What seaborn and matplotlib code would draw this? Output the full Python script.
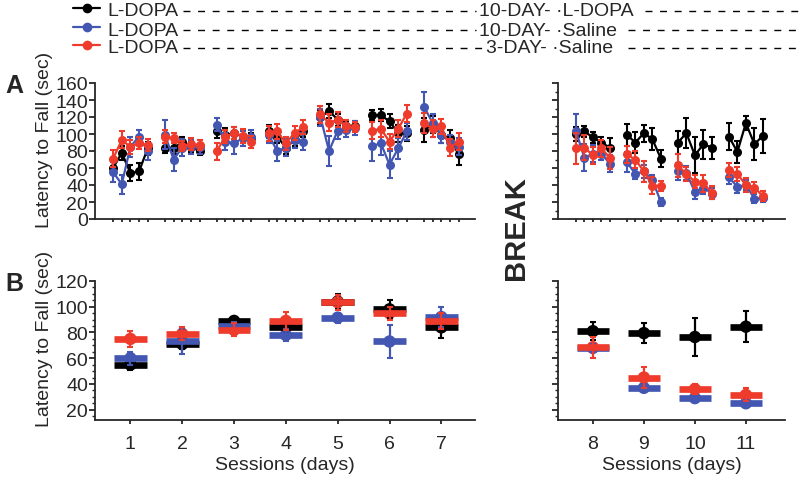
import matplotlib
matplotlib.use("Agg")
import matplotlib.pyplot as plt
from matplotlib.lines import Line2D
from matplotlib.ticker import MultipleLocator
import seaborn as sns
import pandas as pd

sns.set_style("ticks")
plt.rcParams['font.family'] = ['Liberation Sans', 'DejaVu Sans']

# Data
groups = ["10L", "10S", "3S"]
colors = {"10L": "#000000", "10S": "#4357b2", "3S": "#ee3b2b"}

sessions_early = [1, 2, 3, 4, 5, 6, 7]
sessions_late = [8, 9, 10, 11]
trials = [1, 2, 3, 4, 5]

# panel A, days 1-7, 5 trials per day
black_early = [60, 78, 54, 56, 83, 84, 83, 91, 85, 80, 103, 99, 101, 97, 95, 103, 97, 84, 93, 103,
               120, 127, 117, 109, 109, 122, 122, 115, 101, 101, 105, 111, 99, 95, 76]
blue_early = [55, 41, 85, 97, 80, 99, 70, 84, 85, 85, 111, 91, 89, 95, 97, 99, 80, 84, 93, 91,
              120, 80, 104, 105, 107, 86, 89, 64, 83, 103, 132, 113, 99, 91, 85]
red_early = [71, 93, 85, 89, 87, 97, 95, 86, 88, 87, 80, 97, 101, 98, 91, 101, 103, 89, 101, 108,
             123, 113, 117, 109, 108, 104, 106, 91, 106, 124, 113, 106, 109, 84, 91]
black_early_err = [7, 8, 9, 10, 8, 6, 6, 5, 6, 5, 8, 8, 7, 7, 6, 8, 8, 8, 7, 6,
                   8, 8, 7, 6, 6, 6, 7, 8, 10, 9, 14, 10, 10, 10, 12]
blue_early_err = [12, 11, 12, 8, 10, 17, 13, 10, 8, 8, 8, 10, 13, 9, 8, 10, 12, 10, 9, 10,
                  10, 18, 10, 8, 8, 18, 14, 16, 12, 10, 17, 10, 10, 8, 10]
red_early_err = [10, 10, 8, 7, 7, 8, 6, 6, 7, 6, 10, 8, 7, 8, 7, 9, 9, 8, 8, 8,
                 10, 10, 9, 7, 6, 10, 10, 9, 10, 10, 12, 10, 9, 10, 10]

# panel A, days 8-11
black_late = [100, 103, 96, 90, 84, 99, 90, 101, 94, 71, 90, 101, 75, 88, 84, 97, 79, 113, 88, 98]
blue_late = [104, 72, 77, 77, 65, 67, 53, 56, 46, 20, 56, 54, 32, 37, 30, 49, 38, 40, 24, 25]
red_late = [83, 84, 75, 83, 72, 76, 70, 56, 39, 39, 63, 53, 44, 42, 31, 58, 53, 40, 37, 27]
black_late_err = [8, 7, 6, 7, 11, 13, 12, 10, 13, 10, 13, 18, 21, 17, 13, 16, 13, 8, 19, 20]
blue_late_err = [19, 16, 10, 8, 10, 12, 6, 8, 6, 5, 10, 8, 8, 8, 6, 8, 7, 6, 5, 5]
red_late_err = [18, 15, 10, 10, 13, 10, 10, 12, 10, 6, 13, 8, 8, 10, 8, 8, 8, 8, 6, 6]

# panel B, daily means
black_day = [55, 71, 89, 84.5, 104, 98, 84, 81, 79.5, 76.5, 84.5]
blue_day = [60, 73, 85, 78, 91.5, 73, 92, 68, 37, 29, 25]
red_day = [75, 79, 82, 89, 103.5, 95, 89, 68.5, 45, 36, 31.5]
black_day_err = [4, 4, 3, 5, 6, 7, 8, 7, 8, 15, 12]
blue_day_err = [5, 10, 3, 5, 4, 13, 8, 3, 3, 3, 3]
red_day_err = [6, 5, 5, 7, 6, 5, 6, 8, 8, 4, 5]


def trial_frame(sessions, vals, errs):
    rows = []
    for g in groups:
        for i, s in enumerate(sessions):
            for t in trials:
                k = i * len(trials) + t - 1
                rows.append({"group": g, "session": s, "x": i * 6 + t,
                             "latency": vals[g][k], "err": errs[g][k]})
    return pd.DataFrame(rows)


def day_frame(sessions, offset):
    vals = {"10L": black_day, "10S": blue_day, "3S": red_day}
    errs = {"10L": black_day_err, "10S": blue_day_err, "3S": red_day_err}
    rows = []
    for g in groups:
        for i, s in enumerate(sessions):
            rows.append({"group": g, "session": s, "x": i * 6 + 3,
                         "latency": vals[g][offset + i], "err": errs[g][offset + i]})
    return pd.DataFrame(rows)


df_early = trial_frame(sessions_early,
                       {"10L": black_early, "10S": blue_early, "3S": red_early},
                       {"10L": black_early_err, "10S": blue_early_err, "3S": red_early_err})
df_late = trial_frame(sessions_late,
                      {"10L": black_late, "10S": blue_late, "3S": red_late},
                      {"10L": black_late_err, "10S": blue_late_err, "3S": red_late_err})
day_early = day_frame(sessions_early, 0)
day_late = day_frame(sessions_late, 7)

fig = plt.figure(figsize=(8, 4.81), dpi=100)


def rect(x0, y0, x1, y1):
    return [x0 / 800, 1 - y1 / 481, (x1 - x0) / 800, (y1 - y0) / 481]


axA1 = fig.add_axes(rect(95, 84, 475, 220))
axA2 = fig.add_axes(rect(558, 84, 785, 220))
axB1 = fig.add_axes(rect(95, 282, 475, 421))
axB2 = fig.add_axes(rect(558, 282, 785, 421))


def trial_panel(ax, df, xmax):
    for g in groups:
        d = df[df.group == g]
        ax.errorbar(d.x, d.latency, yerr=d.err, fmt="none", ecolor=colors[g],
                    elinewidth=1.5, capsize=2, capthick=1.5)
        sns.lineplot(data=d, x="x", y="latency", units="session", estimator=None,
                     color=colors[g], marker="o", markersize=6.5, markeredgewidth=0,
                     linewidth=1.6, ax=ax, legend=False)
    ax.set_xlim(-1.1, xmax)
    ax.set_ylim(0, 160)
    ax.set_xticks(df.x.unique())
    ax.set_xticklabels([])
    ax.yaxis.set_major_locator(MultipleLocator(20))
    ax.set_xlabel("")
    ax.set_ylabel("")


def day_panel(ax, df, xmax, sessions):
    for g in groups:
        d = df[df.group == g]
        ax.hlines(d.latency, d.x - 1.9, d.x + 1.9, color=colors[g], linewidth=4.8)
        ax.errorbar(d.x, d.latency, yerr=d.err, fmt="none", ecolor=colors[g],
                    elinewidth=1.6, capsize=2, capthick=1.5)
        sns.scatterplot(data=d, x="x", y="latency", color=colors[g], s=80,
                        edgecolor="none", ax=ax, legend=False)
    ax.set_xlim(-1.1, xmax)
    ax.set_ylim(12, 120)
    ax.set_xticks(sorted(df.x.unique()))
    ax.set_xticklabels([str(s) for s in sessions])
    ax.yaxis.set_major_locator(MultipleLocator(20))
    ax.yaxis.set_minor_locator(MultipleLocator(5))
    ax.set_xlabel("Sessions (days)", fontsize=14, labelpad=3)
    ax.set_ylabel("")
    ax.tick_params(axis="x", length=3, pad=8)


trial_panel(axA1, df_early, 42.9)
trial_panel(axA2, df_late, 25.6)
day_panel(axB1, day_early, 42.9, sessions_early)
day_panel(axB2, day_late, 25.6, sessions_late)

for ax in [axA1, axA2, axB1, axB2]:
    sns.despine(ax=ax)
    for sp in ["left", "bottom"]:
        ax.spines[sp].set_linewidth(1.3)
    ax.tick_params(labelsize=14, width=1.1, color="black")
    ax.tick_params(axis="y", length=4, pad=1)
    ax.tick_params(axis="y", which="minor", length=2.5, width=1)

axA1.tick_params(axis="x", length=2.5)
axA2.tick_params(axis="x", length=2.5)
axA2.yaxis.set_minor_locator(MultipleLocator(10))
axA2.set_yticklabels([])
axB2.set_yticklabels([])

for ax in [axA1, axB1]:
    ax.set_ylabel("Latency to Fall (sec)", fontsize=14)
    ax.yaxis.set_label_coords(-0.11, 0.59)

fig.text(5 / 800, 1 - 86 / 481, "A", fontsize=18, fontweight="bold", va="center")
fig.text(5 / 800, 1 - 284 / 481, "B", fontsize=18, fontweight="bold", va="center")
fig.text(516 / 800, 1 - 228 / 481, "BREAK", fontsize=21, fontweight="bold",
         rotation=90, ha="center", va="center")

# legend rows
legend_rows = [("L-DOPA", "10-DAY- \u00b7L-DOPA", 479, 645),
               ("L-DOPA", "10-DAY- \u00b7Saline", 479, 628),
               ("L-DOPA", "3-DAY- \u00b7Saline", 486, 628)]
for (first, second, x2, x3), g, py in zip(legend_rows, groups, [12, 31, 49]):
    y = 1 - py / 481
    ym = 1 - (py - 3) / 481
    fig.add_artist(Line2D([73 / 800, 100 / 800], [ym, ym], color=colors[g], lw=1.6,
                          transform=fig.transFigure))
    fig.add_artist(Line2D([87 / 800], [ym], color=colors[g], marker="o", markersize=7,
                          markeredgewidth=0, transform=fig.transFigure))
    fig.text(107 / 800, y, first, fontsize=14, va="center")
    fig.text(x2 / 800, y, second, fontsize=14, va="center")
    fig.add_artist(Line2D([183 / 800, (x2 - 3) / 800], [y, y], color="black", lw=1,
                          linestyle=(0, (5, 5.5)), transform=fig.transFigure))
    fig.add_artist(Line2D([x3 / 800, 1.0], [y, y], color="black", lw=1,
                          linestyle=(0, (5, 5.5)), transform=fig.transFigure))

fig.savefig("out.png", dpi=100)
